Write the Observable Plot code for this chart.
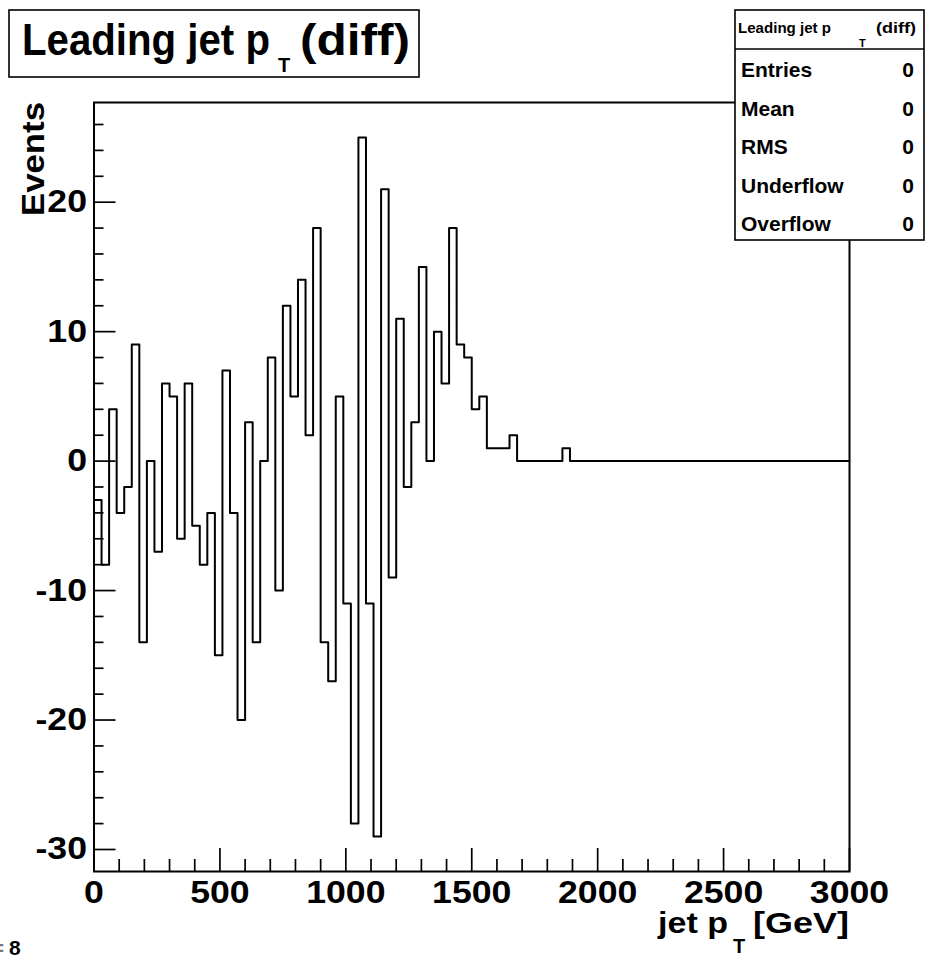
<!DOCTYPE html>
<html>
<head>
<meta charset="utf-8">
<script src="https://cdn.jsdelivr.net/npm/d3@7"></script>
<script src="https://cdn.jsdelivr.net/npm/@observablehq/plot@0.6"></script>
<style>
html, body { margin: 0; padding: 0; background: #fff; }
#chart { position: relative; width: 930px; height: 956px; overflow: hidden; }
</style>
</head>
<body>
<div id="chart"></div>
<script>
// ---- data ----
const histTitleMain = "Leading jet p";
const histTitleSub = "T";
const histTitleTail = "(diff)";
const xLabelMain = "jet p";
const xLabelSub = "T";
const xLabelTail = "[GeV]";
const yLabel = "Events";
const cornerText = "8";

const xLow = 0;
const xHigh = 3000;
const nBins = 100;
// bin contents, 30 GeV bins from 0 to 3000 GeV
const events = [
  -3, -8, 4, -4, -2, 9, -14, 0, -7, 6,
  5, -6, 6, -5, -8, -4, -15, 7, -4, -20,
  3, -14, 0, 8, -10, 12, 5, 14, 2, 18,
  -14, -17, 5, -11, -28, 25, -11, -29, 21, -9,
  11, -2, 3, 15, 0, 10, 6, 18, 9, 8,
  4, 5, 1, 1, 1, 2, 0, 0, 0, 0,
  0, 0, 1, 0, 0, 0, 0, 0, 0, 0,
  0, 0, 0, 0, 0, 0, 0, 0, 0, 0,
  0, 0, 0, 0, 0, 0, 0, 0, 0, 0,
  0, 0, 0, 0, 0, 0, 0, 0, 0, 0
];
const yDomain = [-31.7, 27.7];

const xTickLabels = [0, 500, 1000, 1500, 2000, 2500, 3000];
const xMinorTicks = [100, 200, 300, 400, 600, 700, 800, 900, 1100, 1200, 1300, 1400,
  1600, 1700, 1800, 1900, 2100, 2200, 2300, 2400, 2600, 2700, 2800, 2900];
const yTickLabels = [-30, -20, -10, 0, 10, 20];
const yMinorTicks = [-28, -26, -24, -22, -18, -16, -14, -12, -8, -6, -4, -2,
  2, 4, 6, 8, 12, 14, 16, 18, 22, 24, 26];

const statsHeaderMain = "Leading jet p";
const statsHeaderSub = "T";
const statsHeaderTail = "(diff)";
const statsLabels = ["Entries", "Mean", "RMS", "Underflow", "Overflow"];
const statsValues = [0, 0, 0, 0, 0];

// ---- layout ----
const W = 930, H = 956;
const mL = 93.5, mR = 81, mT = 102, mB = 85;
const pw = W - mL - mR, ph = H - mT - mB;
const FONT = "'Liberation Sans', Arial, Helvetica, sans-serif";

const binW = (xHigh - xLow) / nBins;
const steps = events.flatMap((v, i) => [
  {x: xLow + i * binW, y: v},
  {x: xLow + (i + 1) * binW, y: v}
]);

const plot = Plot.plot({
  width: W,
  height: H,
  marginLeft: mL,
  marginRight: mR,
  marginTop: mT,
  marginBottom: mB,
  style: {fontFamily: FONT, fontWeight: "bold", fontSize: "31px", background: "white", color: "black", overflow: "visible"},
  x: {domain: [xLow, xHigh]},
  y: {domain: yDomain},
  marks: [
    Plot.line(steps, {x: "x", y: "y", stroke: "black", strokeWidth: 2}),
    Plot.tickX(xTickLabels, {x: d => d, insetTop: ph - 23, stroke: "black", strokeWidth: 1.7}),
    Plot.tickX(xMinorTicks, {x: d => d, insetTop: ph - 12, stroke: "black", strokeWidth: 1.7}),
    Plot.tickY(yTickLabels, {y: d => d, insetRight: pw - 22, stroke: "black", strokeWidth: 1.7}),
    Plot.tickY(yMinorTicks, {y: d => d, insetRight: pw - 10, stroke: "black", strokeWidth: 1.7}),
    Plot.axisX({ticks: xTickLabels, tickSize: 0, tickPadding: 9, label: null, tickFormat: d => String(d)}),
    Plot.axisY({ticks: yTickLabels, tickSize: 0, tickPadding: 7, label: null, tickFormat: d => String(d)}),
    Plot.frame({stroke: "black", strokeWidth: 2})
  ]
});

document.getElementById("chart").appendChild(plot);

const svg = d3.select(plot);
// widen axis tick labels a bit (ROOT-like glyph proportions)
svg.selectAll('g[aria-label="x-axis tick label"] text, g[aria-label="y-axis tick label"] text').each(function() {
  const el = d3.select(this);
  const x = +el.attr("x") || 0, y = +el.attr("y") || 0;
  const t = el.attr("transform") || "";
  el.attr("transform", `${t} translate(${x},${y}) scale(1.15,1) translate(${-x},${-y})`);
});

const g = svg.append("g").attr("font-family", FONT).attr("font-weight", "bold")
  .attr("fill", "black").attr("text-anchor", "start");

function txt(x, y, size, s, len) {
  const t = g.append("text").attr("x", x).attr("y", y).attr("font-size", size)
    .attr("text-anchor", "start").text(s);
  if (len) t.attr("textLength", len).attr("lengthAdjust", "spacingAndGlyphs");
  return t;
}

// title box
g.append("rect").attr("x", 9).attr("y", 10).attr("width", 410).attr("height", 67)
  .attr("fill", "white").attr("stroke", "black").attr("stroke-width", 1.6);
txt(22, 55, 44, histTitleMain, 248);
txt(278, 72, 20, histTitleSub);
txt(300, 55, 44, histTitleTail, 110);

// stats box
g.append("rect").attr("x", 735).attr("y", 10).attr("width", 189).attr("height", 230)
  .attr("fill", "white").attr("stroke", "black").attr("stroke-width", 1.6);
g.append("line").attr("x1", 735).attr("x2", 924).attr("y1", 49).attr("y2", 49)
  .attr("stroke", "black").attr("stroke-width", 1.4);
txt(738, 33, 15, statsHeaderMain, 93);
txt(859, 47, 11, statsHeaderSub);
txt(876, 33, 15, statsHeaderTail, 40);
const rowBase = [77, 116, 154, 193, 231];
statsLabels.forEach((lab, i) => {
  txt(741, rowBase[i], 21, lab);
  txt(914, rowBase[i], 21, String(statsValues[i])).attr("text-anchor", "end");
});

// y label
g.append("text").attr("transform", "translate(44,102) rotate(-90)")
  .attr("text-anchor", "end").attr("font-size", 32)
  .attr("textLength", 114).attr("lengthAdjust", "spacingAndGlyphs").text(yLabel);

// x label
txt(658, 933, 30, xLabelMain, 70);
txt(733, 953, 20, xLabelSub);
txt(753, 933, 30, xLabelTail, 96);

// corner text (partly cut off at the left edge)
txt(9, 955, 21, cornerText);
txt(4, 955, 21, "=").attr("text-anchor", "end").attr("fill", "#777");
</script>
</body>
</html>
